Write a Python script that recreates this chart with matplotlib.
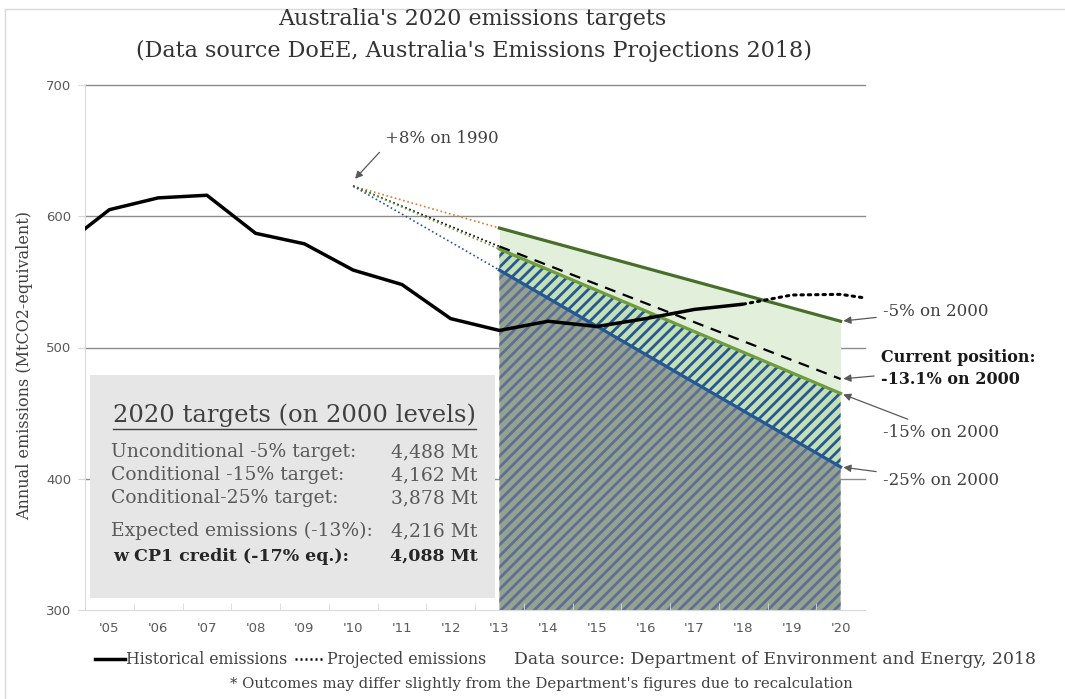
import numpy as np
import matplotlib.pyplot as plt
from matplotlib.lines import Line2D
from matplotlib.patches import Rectangle

plt.rcParams['font.family'] = ['DejaVu Serif']
plt.rcParams['hatch.linewidth'] = 2.0

# data
years = list(range(2005, 2021))
tick_labels = ["'%02d" % (y % 100) for y in years]

hist_years = [2004, 2005, 2006, 2007, 2008, 2009, 2010, 2011, 2012, 2013, 2014, 2015, 2016, 2017, 2018]
hist_values = [576, 605, 614, 616, 587, 579, 559, 548, 522, 513, 520, 516, 522, 529, 533]
proj_years = [2018, 2019, 2020, 2021]
proj_values = [533, 540, 540.5, 535]

target_years = [2013, 2020]
minus5 = [591, 520]
current = [577, 476]
minus15 = [575, 465]
minus25 = [559, 409]
start_year = 2010
start_value = 623

box_labels = ['Unconditional -5% target:', 'Conditional -15% target:', 'Conditional-25% target:',
              'Expected emissions (-13%):', 'w CP1 credit (-17% eq.):']
box_values = ['4,488 Mt', '4,162 Mt', '3,878 Mt', '4,216 Mt', '4,088 Mt']

c_dkgreen = '#476f2a'
c_green = '#6f9c3c'
c_blue = '#245895'
c_orange = '#e0772f'
c_txt = '#404040'

def xi(y):
    return np.asarray(y, dtype=float) - 2005

fig = plt.figure(figsize=(10.65, 6.99), dpi=100)
ax = fig.add_axes([85 / 1065, 89 / 699, 780 / 1065, 525 / 699])
ax.set_xlim(-0.5, 15.5)
ax.set_ylim(300, 700)

# grid
for gy in [400, 500, 600, 700]:
    ax.axhline(gy, color='#8c8c8c', lw=1.0, zorder=0, clip_on=False)

tx = xi(target_years)
ax.fill_between(tx, minus5, minus15, color='#e2efda', lw=0, zorder=1)
ax.fill_between(tx, minus15, minus25, facecolor='#c5e0b4', edgecolor=c_blue, hatch='///', lw=0, zorder=1)
ax.fill_between(tx, minus25, [300, 300], facecolor='#95a38e', edgecolor='#5b6f98', hatch='///', lw=0, zorder=1)

# dotted leads from 2010
for vals, col in [(minus5, c_orange), (current, 'black'), (minus15, c_green), (minus25, c_blue)]:
    ax.plot(xi([start_year, target_years[0]]), [start_value, vals[0]], color=col, lw=1.2,
            ls=(0, (1, 1.6)), zorder=3)

ax.plot(tx, minus5, color=c_dkgreen, lw=2.3, zorder=4)
ax.plot(tx, minus15, color=c_green, lw=2.3, zorder=4)
ax.plot(tx, minus25, color=c_blue, lw=2.3, zorder=4)
ax.plot(tx, current, color='black', lw=1.6, ls=(0, (5, 3.5)), zorder=4)

ax.plot(xi(hist_years), hist_values, color='black', lw=2.5, zorder=5, solid_capstyle='butt')
ax.plot(xi(proj_years), proj_values, color='black', lw=2.2, ls=(0, (0.8, 1.6)),
        dash_capstyle='round', zorder=5)

# axes styling
for s in ['top', 'right']:
    ax.spines[s].set_visible(False)
for s in ['left', 'bottom']:
    ax.spines[s].set_color('#d9d9d9')
ax.set_xticks(xi(years))
ax.set_xticklabels(tick_labels)
ax.set_xticks(np.arange(0.5, 15, 1), minor=True)
ax.tick_params(axis='x', which='major', length=0, pad=9, labelsize=9.5, labelcolor='#595959',
               labelfontfamily='DejaVu Sans')
ax.tick_params(axis='x', which='minor', length=5, direction='in', color='#d9d9d9')
ax.set_yticks([300, 400, 500, 600, 700])
ax.tick_params(axis='y', length=5, color='#d9d9d9', labelsize=9.5, labelcolor='#595959',
               labelfontfamily='DejaVu Sans', pad=5)
ax.set_ylabel('Annual emissions (MtCO2-equivalent)', fontsize=11.5, color=c_txt)
ax.yaxis.set_label_coords(-0.067, 0.465)

# summary box
ax.add_patch(Rectangle((0.006, 0.023), 0.52, 0.425, transform=ax.transAxes,
                       facecolor='#e7e6e6', edgecolor='none', zorder=2))
box_title = ax.text(0.074, 448.6, '2020 targets (on 2000 levels)', fontsize=17.5, color=c_txt,
                    va='center', ha='left', zorder=6)
row_y = [420.4, 402.9, 385.3, 360.2, 341.1]
for i, (lab, val) in enumerate(zip(box_labels, box_values)):
    bold = i == len(box_labels) - 1
    col = '#262626' if bold else '#595959'
    fs = 12.5 if bold else 13.5
    ax.text(0.03 if not bold else 0.08, row_y[i], lab, fontsize=fs, va='center', ha='left',
            color=col, fontweight='bold' if bold else 'normal', zorder=6)
    ax.text(7.55, row_y[i], val, fontsize=fs, va='center', ha='right',
            color=col, fontweight='bold' if bold else 'normal', zorder=6)

# annotations
arrow = dict(arrowstyle='-|>', color='#595959', lw=0.9, mutation_scale=11, shrinkA=3, shrinkB=2)
ax.annotate('+8% on 1990', xy=(xi(start_year), start_value + 4), xytext=(5.65, 659.6),
            fontsize=12, color=c_txt, va='center', ha='left', annotation_clip=False,
            arrowprops=dict(arrow, relpos=(0.0, 0.0)))
ax.annotate('-5% on 2000', xy=(15, minus5[1]), xytext=(15.87, 527.8),
            fontsize=12, color=c_txt, va='center', ha='left', arrowprops=arrow, annotation_clip=False)
ax.annotate('Current position:\n-13.1% on 2000', xy=(15, current[1]), xytext=(15.83, 484),
            fontsize=11.5, color='#1a1a1a', fontweight='bold', va='center', ha='left',
            linespacing=1.45, arrowprops=arrow, annotation_clip=False)
ax.annotate('-15% on 2000', xy=(15, minus15[1]), xytext=(15.87, 435.6),
            fontsize=12, color=c_txt, va='center', ha='left', arrowprops=arrow, annotation_clip=False)
ax.annotate('-25% on 2000', xy=(15, minus25[1]), xytext=(15.87, 399),
            fontsize=12, color=c_txt, va='center', ha='left', arrowprops=arrow, annotation_clip=False)

# title
fig.text(0.443, 1 - 19 / 699, "Australia's 2020 emissions targets", fontsize=16, color='#333333',
         ha='center', va='center')
fig.text(0.445, 1 - 51 / 699, "(Data source DoEE, Australia's Emissions Projections 2018)", fontsize=16,
         color='#333333', ha='center', va='center')

# legend / footnote
handles = [Line2D([], [], color='black', lw=2.5),
           Line2D([], [], color='black', lw=1.8, ls=(0, (0.8, 1.2)))]
labels = ['Historical emissions', 'Projected emissions']
fig.legend(handles, labels, loc='center left', bbox_to_anchor=(95 / 1065, 1 - 660 / 699), ncol=2,
           frameon=False, fontsize=11.3, handlelength=1.9, handletextpad=0.1, columnspacing=0.5,
           labelcolor=c_txt, borderpad=0, borderaxespad=0)
fig.text(514 / 1065, 1 - 660 / 699, 'Data source: Department of Environment and Energy, 2018',
         fontsize=12.4, color=c_txt, ha='left', va='center')
fig.text(0.508, 1 - 684 / 699, "* Outcomes may differ slightly from the Department's figures due to recalculation",
         fontsize=10.7, color=c_txt, ha='center', va='center')

# outer frame
fig.add_artist(Line2D([5 / 1065, 5 / 1065], [0, 1 - 9 / 699], color='#d9d9d9', lw=1))
fig.add_artist(Line2D([5 / 1065, 1], [1 - 9 / 699, 1 - 9 / 699], color='#d9d9d9', lw=1))

# underline for the box title
fig.canvas.draw()
bb = box_title.get_window_extent().transformed(ax.transData.inverted())
ax.plot([bb.x0, bb.x1], [bb.y0 - 1.5, bb.y0 - 1.5], color=c_txt, lw=1.0, zorder=6)

fig.savefig('out.png', dpi=100)
